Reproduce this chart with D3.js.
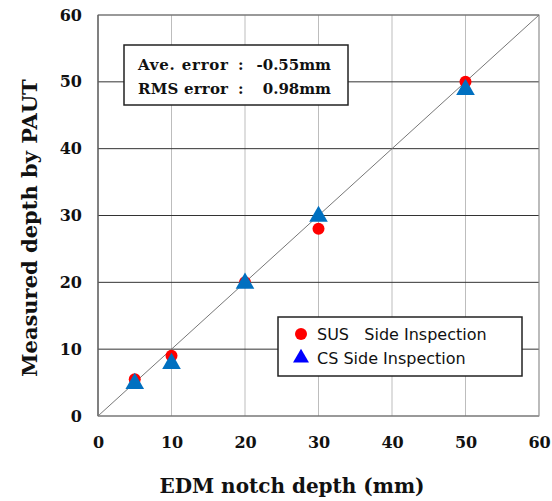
<!DOCTYPE html>
<html>
<head>
<meta charset="utf-8">
<script src="https://cdn.jsdelivr.net/npm/d3@7"></script>
<style>
  body { margin: 0; background: #fff; }
</style>
</head>
<body>
<script>
// small stand-in for d3-selection-multi's .attrs()
d3.selection.prototype.attrs = function (obj) {
  for (let k in obj) this.attr(k, obj[k]);
  return this;
};

let w = 552, h = 501;
let margin = { left: 98, right: 13, top: 15, bottom: 85 };

// data
let notchDepth = [5, 10, 20, 30, 50];
let susMeasured = [5.5, 9, 20, 28, 50];
let csMeasured = [5, 8, 20, 30, 49];
let ticks = [0, 10, 20, 30, 40, 50, 60];
let statNames = ["Ave. error", "RMS error"];
let statValues = ["-0.55mm", "0.98mm"];
let legendItems = ["SUS   Side Inspection", "CS Side Inspection"];

let svg = d3.select("body").append("svg").attr("width", w).attr("height", h);

let x = d3.scaleLinear().domain([0, 60]).range([margin.left, w - margin.right]);
let y = d3.scaleLinear().domain([0, 60]).range([h - margin.bottom, margin.top]);

let serif = "'DejaVu Serif', serif";

// grid
svg.selectAll("line.vgrid").data(ticks).enter().append("line")
  .attrs({ x1: d => x(d), x2: d => x(d), y1: y(0), y2: y(60), stroke: "#bdbdbd", "stroke-width": 1 });
svg.selectAll("line.hgrid").data(ticks).enter().append("line")
  .attrs({ x1: x(0), x2: x(60), y1: d => y(d), y2: d => y(d), stroke: "#333", "stroke-width": 1 });

// frame
svg.append("rect").attrs({ x: x(0), y: y(60), width: x(60) - x(0), height: y(0) - y(60), fill: "none", stroke: "#999" });
svg.append("line").attrs({ x1: x(0), x2: x(0), y1: y(0), y2: y(60), stroke: "#444" });

// 1:1 line
svg.append("line").attrs({ x1: x(0), y1: y(0), x2: x(60), y2: y(60), stroke: "#777", "stroke-width": 1 });

// axes labels
let xAxis = d3.axisBottom(x).tickValues(ticks).tickSize(0).tickPadding(21);
svg.append("g").attr("transform", `translate(0,${y(0)})`).call(xAxis)
  .call(g => g.select(".domain").remove())
  .selectAll("text").attrs({ "font-family": serif, "font-size": 16, "font-weight": "bold", fill: "#111" });

let yAxis = d3.axisLeft(y).tickValues(ticks).tickSize(0).tickPadding(16);
svg.append("g").attr("transform", `translate(${x(0)},0)`).call(yAxis)
  .call(g => g.select(".domain").remove())
  .selectAll("text").attrs({ "font-family": serif, "font-size": 16, "font-weight": "bold", fill: "#111" });

svg.append("text").text("EDM notch depth (mm)")
  .attrs({ x: 292, y: 493, "text-anchor": "middle", "font-family": serif, "font-size": 20, "font-weight": "bold", fill: "#111" });
svg.append("text").text("Measured depth by PAUT")
  .attrs({ transform: `translate(37,228) rotate(-90)`, "text-anchor": "middle", "font-family": serif, "font-size": 21, "font-weight": "bold", fill: "#111" });

// points
svg.selectAll("circle.sus").data(notchDepth).enter().append("circle")
  .attrs({ cx: d => x(d), cy: (d, i) => y(susMeasured[i]), r: 6, fill: "#ff0000" });
let tri = d3.symbol().type(d3.symbolTriangle).size(150);
svg.selectAll("path.cs").data(notchDepth).enter().append("path")
  .attrs({ d: tri, transform: (d, i) => `translate(${x(d)},${y(csMeasured[i]) + 1})`, fill: "#0070c0" });

// stats box
svg.append("rect").attrs({ x: 124, y: 45, width: 224, height: 60, fill: "#fff", stroke: "#222", "stroke-width": 1.5 });
statNames.forEach((s, i) => {
  let by = 70 + i * 24;
  svg.append("text").text(s).attrs({ x: 138, y: by, textLength: 90, "font-family": serif, "font-size": 15, "font-weight": "bold", fill: "#111" });
  svg.append("text").text(":").attrs({ x: 238, y: by, "font-family": serif, "font-size": 15, "font-weight": "bold", fill: "#111" });
  svg.append("text").text(statValues[i]).attrs({ x: 331, y: by, "text-anchor": "end", "font-family": serif, "font-size": 15, "font-weight": "bold", fill: "#111" });
});

// legend
svg.append("rect").attrs({ x: 278, y: 317, width: 244, height: 59, fill: "#fff", stroke: "#222", "stroke-width": 1.5 });
svg.append("circle").attrs({ cx: 301, cy: 334, r: 6, fill: "#ff0000" });
svg.append("path").attrs({ d: d3.symbol().type(d3.symbolTriangle).size(110), transform: "translate(301,358)", fill: "#0000ff" });
legendItems.forEach((t, i) => {
  svg.append("text").text(t).attrs({ x: 317, y: 340 + i * 24, "font-family": "'DejaVu Sans', sans-serif", "font-size": 16, fill: "#111" })
    .style("white-space", "pre");
});
</script>
</body>
</html>
